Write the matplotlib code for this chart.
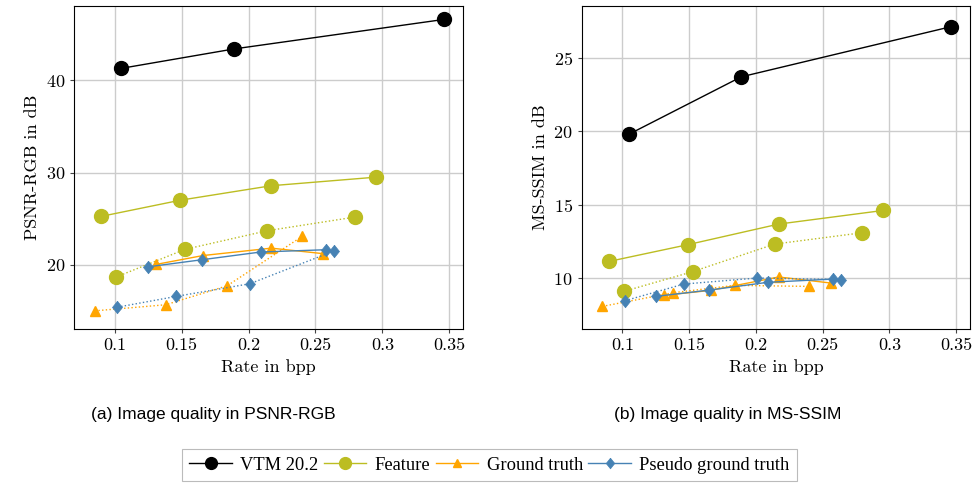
import numpy as np
import matplotlib.pyplot as plt

# rates (bpp)
vtm_rate = [0.105, 0.189, 0.346]
feat_rate = [0.090, 0.149, 0.217, 0.2955]
feat_rate_dot = [0.101, 0.1525, 0.214, 0.2795]
gt_rate = [0.131, 0.166, 0.217, 0.256]
gt_rate_dot = [0.085, 0.138, 0.184, 0.240]
pgt_rate = [0.125, 0.165, 0.209, 0.258]
pgt_rate_dot = [0.102, 0.146, 0.201, 0.264]

# PSNR-RGB in dB
vtm_psnr = [41.3, 43.4, 46.6]
feat_psnr = [25.25, 27.0, 28.57, 29.5]
feat_psnr_dot = [18.67, 21.67, 23.69, 25.17]
gt_psnr = [20.04, 21.0, 21.8, 21.2]
gt_psnr_dot = [15.0, 15.66, 17.72, 23.07]
pgt_psnr = [19.78, 20.54, 21.38, 21.63]
pgt_psnr_dot = [15.4, 16.57, 17.94, 21.5]

# MS-SSIM in dB
vtm_ssim = [19.79, 23.69, 27.1]
feat_ssim = [11.13, 12.27, 13.67, 14.6]
feat_ssim_dot = [9.09, 10.43, 12.31, 13.08]
gt_ssim = [8.82, 9.16, 10.07, 9.66]
gt_ssim_dot = [8.07, 9.0, 9.5, 9.43]
pgt_ssim = [8.75, 9.18, 9.71, 9.93]
pgt_ssim_dot = [8.46, 9.59, 10.0, 9.89]

c_vtm = 'black'
c_feat = '#bcbd22'
c_gt = '#ffa500'
c_pgt = '#4682b4'

# pgfplots-like diamond, a bit narrower than tall
diamond = [(0, 1), (0.8, 0), (0, -1), (-0.8, 0), (0, 1)]

plt.rcParams['font.family'] = 'cmr10'
plt.rcParams['axes.formatter.use_mathtext'] = True

fig = plt.figure(figsize=(9.79, 4.83), dpi=100)
ax1 = fig.add_axes([0.0756, 0.3188, 0.3973, 0.6688])
ax2 = fig.add_axes([0.5942, 0.3188, 0.3966, 0.6688])


def draw(ax, vtm, feat, feat_dot, gt, gt_dot, pgt, pgt_dot):
    lw = 1.0
    h = []
    h += ax.plot(vtm_rate, vtm, color=c_vtm, marker='o', ms=10, lw=lw, label='VTM 20.2')
    h += ax.plot(feat_rate, feat, color=c_feat, marker='o', ms=10, lw=lw, label='Feature')
    ax.plot(feat_rate_dot, feat_dot, color=c_feat, marker='o', ms=10, lw=lw, ls=':')
    h += ax.plot(gt_rate, gt, color=c_gt, marker='^', ms=7.5, lw=lw, label='Ground truth')
    ax.plot(gt_rate_dot, gt_dot, color=c_gt, marker='^', ms=7.5, lw=lw, ls=':')
    h += ax.plot(pgt_rate, pgt, color=c_pgt, marker=diamond, ms=9, mew=0.5,
                 lw=lw, label='Pseudo ground truth')
    ax.plot(pgt_rate_dot, pgt_dot, color=c_pgt, marker=diamond, ms=9, mew=0.5,
            lw=lw, ls=':')
    ax.grid(True, color='#cccccc', lw=1.0)
    ax.set_axisbelow(True)
    ax.set_xlim(0.0695, 0.3603)
    ax.set_xticks([0.1, 0.15, 0.2, 0.25, 0.3, 0.35])
    ax.set_xticklabels(['0.1', '0.15', '0.2', '0.25', '0.3', '0.35'])
    ax.tick_params(labelsize=13, length=3, width=0.8, color='#444444')
    ax.set_xlabel('Rate in bpp', fontsize=13)
    for s in ax.spines.values():
        s.set_linewidth(0.8)
    return h


handles = draw(ax1, vtm_psnr, feat_psnr, feat_psnr_dot, gt_psnr, gt_psnr_dot,
               pgt_psnr, pgt_psnr_dot)
ax1.set_ylim(13.03, 48.06)
ax1.set_yticks([20, 30, 40])
ax1.set_ylabel('PSNR-RGB in dB', fontsize=13)

draw(ax2, vtm_ssim, feat_ssim, feat_ssim_dot, gt_ssim, gt_ssim_dot,
     pgt_ssim, pgt_ssim_dot)
ax2.set_ylim(6.53, 28.51)
ax2.set_yticks([10, 15, 20, 25])
ax2.set_ylabel('MS-SSIM in dB', fontsize=13)

fig.text(213 / 979, 1 - 415 / 483, '(a) Image quality in PSNR-RGB', fontsize=12.5,
         family='Liberation Sans', ha='center', va='center')
fig.text(728 / 979, 1 - 415 / 483, '(b) Image quality in MS-SSIM', fontsize=12.5,
         family='Liberation Sans', ha='center', va='center')

leg = fig.legend(handles, [h.get_label() for h in handles], loc='center',
                 bbox_to_anchor=(489.5 / 979, 1 - 465 / 483), ncol=4,
                 prop={'family': 'Liberation Serif', 'size': 13.3},
                 handlelength=2.3, handletextpad=0.45, columnspacing=0.3,
                 borderpad=0.4, borderaxespad=0, markerscale=0.85,
                 fancybox=False, edgecolor='#bbbbbb', framealpha=1)
leg.get_frame().set_linewidth(0.8)

fig.savefig('out.png', dpi=100)
